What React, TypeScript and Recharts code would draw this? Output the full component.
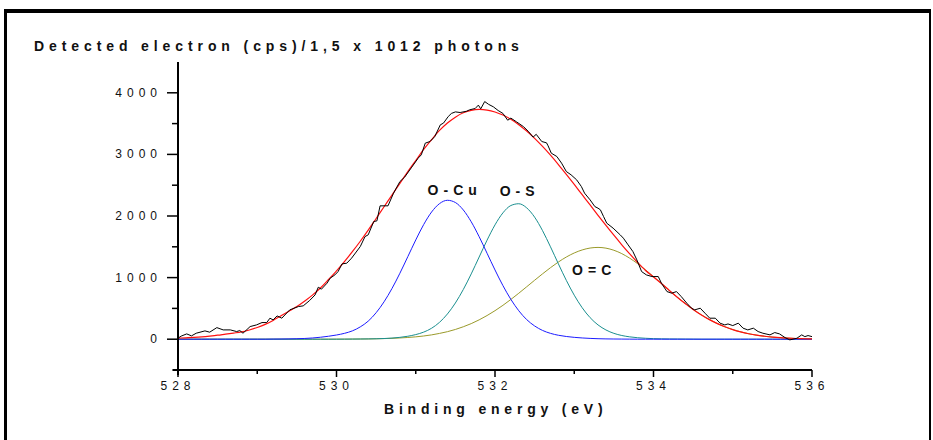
import React from "react";
import { LineChart, Line, XAxis, YAxis, ReferenceDot, ReferenceLine } from "recharts";

// fitted envelope and components, sampled every 0.1 eV
const fitEnergy = [
  528.0, 528.1, 528.2, 528.3, 528.4, 528.5, 528.6, 528.7, 528.8, 528.9,
  529.0, 529.1, 529.2, 529.3, 529.4, 529.5, 529.6, 529.7, 529.8, 529.9,
  530.0, 530.1, 530.2, 530.3, 530.4, 530.5, 530.6, 530.7, 530.8, 530.9,
  531.0, 531.1, 531.2, 531.3, 531.4, 531.5, 531.6, 531.7, 531.8, 531.9,
  532.0, 532.1, 532.2, 532.3, 532.4, 532.5, 532.6, 532.7, 532.8, 532.9,
  533.0, 533.1, 533.2, 533.3, 533.4, 533.5, 533.6, 533.7, 533.8, 533.9,
  534.0, 534.1, 534.2, 534.3, 534.4, 534.5, 534.6, 534.7, 534.8, 534.9,
  535.0, 535.1, 535.2, 535.3, 535.4, 535.5, 535.6, 535.7, 535.8, 535.9,
  536.0,
];

const envelopeFit = [
  17, 23, 30, 39, 51, 65, 83, 100, 118, 150,
  190, 240, 305, 380, 455, 530, 620, 720, 835, 970,
  1110, 1260, 1420, 1590, 1770, 1960, 2150, 2340, 2530, 2720,
  2900, 3080, 3240, 3390, 3510, 3605, 3675, 3716, 3730, 3720,
  3689, 3639, 3570, 3483, 3379, 3261, 3129, 2987, 2835, 2676,
  2513, 2346, 2179, 2012, 1848, 1688, 1533, 1385, 1245, 1115,
  1010, 904, 791, 682, 579, 484, 398, 322, 257, 202,
  156, 119, 89, 65, 48, 34, 24, 17, 11, 7,
  5,
];

const oCuFit = [
  0, 0, 0, 0, 0, 0, 0, 0, 0, 0,
  0, 0, 2, 3, 5, 8, 12, 20, 32, 48,
  68, 95, 135, 200, 293, 430, 607, 823, 1071, 1340,
  1611, 1861, 2065, 2201, 2255, 2219, 2098, 1906, 1664, 1395,
  1124, 870, 647, 462, 318, 215, 142, 95, 64, 44,
  30, 20, 13, 8, 5, 3, 2, 1, 0, 0,
  0, 0, 0, 0, 0, 0, 0, 0, 0, 0,
  0, 0, 0, 0, 0, 0, 0, 0, 0, 0,
  0,
];

const oSFit = [
  0, 0, 0, 0, 0, 0, 0, 0, 0, 0,
  0, 0, 0, 0, 0, 0, 0, 0, 0, 0,
  0, 1, 2, 3, 5, 7, 11, 18, 30, 48,
  75, 115, 178, 274, 410, 588, 807, 1060, 1334, 1608,
  1856, 2051, 2170, 2199, 2132, 1981, 1762, 1500, 1223, 955,
  714, 511, 350, 232, 150, 95, 60, 38, 24, 15,
  9, 6, 4, 3, 2, 1, 0, 0, 0, 0,
  0, 0, 0, 0, 0, 0, 0, 0, 0, 0,
  0,
];

const oCFit = [
  0, 0, 0, 0, 0, 0, 0, 0, 0, 0,
  0, 0, 0, 0, 0, 0, 0, 0, 0, 0,
  1, 1, 2, 3, 4, 7, 10, 14, 20, 28,
  38, 52, 70, 94, 122, 158, 202, 253, 314, 384,
  463, 550, 645, 746, 851, 957, 1061, 1161, 1253, 1334,
  1400, 1449, 1480, 1490, 1478, 1444, 1389, 1315, 1226, 1125,
  1016, 904, 791, 682, 579, 484, 398, 322, 257, 202,
  156, 119, 89, 65, 48, 34, 24, 17, 11, 7,
  5,
];

// measured spectrum
const spectrumEnergy = [
  528.0, 528.04, 528.11, 528.17, 528.23, 528.34, 528.4, 528.49, 528.57, 528.66,
  528.74, 528.78, 528.82, 528.91, 528.99, 529.06, 529.12, 529.16, 529.2, 529.25,
  529.31, 529.41, 529.52, 529.58, 529.66, 529.73, 529.77, 529.81, 529.88, 529.92,
  529.98, 530.02, 530.07, 530.13, 530.19, 530.3, 530.36, 530.4, 530.47, 530.51,
  530.55, 530.65, 530.72, 530.8, 530.86, 530.95, 531.03, 531.07, 531.12, 531.18,
  531.24, 531.31, 531.35, 531.41, 531.45, 531.5, 531.56, 531.64, 531.68, 531.75,
  531.79, 531.82, 531.87, 531.92, 531.98, 532.04, 532.1, 532.16, 532.2, 532.27,
  532.36, 532.42, 532.48, 532.52, 532.59, 532.65, 532.67, 532.71, 532.78, 532.84,
  532.9, 532.96, 533.03, 533.09, 533.13, 533.2, 533.26, 533.3, 533.33, 533.37,
  533.41, 533.49, 533.58, 533.62, 533.68, 533.74, 533.79, 533.85, 533.91, 533.98,
  534.06, 534.1, 534.17, 534.23, 534.29, 534.35, 534.42, 534.48, 534.52, 534.59,
  534.65, 534.71, 534.78, 534.84, 534.9, 534.94, 535.0, 535.07, 535.13, 535.19,
  535.26, 535.32, 535.38, 535.47, 535.53, 535.59, 535.66, 535.72, 535.81, 535.87,
  535.91, 535.95, 536.0,
];

const spectrumCounts = [
  16, 50, 86, 54, 97, 135, 114, 188, 151, 151,
  124, 140, 97, 205, 232, 270, 270, 341, 313, 378,
  341, 476, 530, 541, 627, 719, 844, 812, 909, 990,
  1044, 1098, 1223, 1234, 1315, 1504, 1666, 1694, 1910, 1921,
  2165, 2165, 2371, 2559, 2631, 2793, 2939, 2993, 3183, 3209,
  3290, 3480, 3508, 3615, 3665, 3690, 3680, 3700, 3724, 3745,
  3800, 3740, 3858, 3812, 3772, 3712, 3665, 3555, 3589, 3530,
  3450, 3375, 3280, 3326, 3209, 3188, 3139, 3020, 2966, 2858,
  2722, 2668, 2587, 2478, 2371, 2262, 2153, 2127, 2100, 1991,
  1884, 1803, 1694, 1640, 1531, 1423, 1288, 1098, 1044, 1017,
  1017, 909, 773, 747, 773, 692, 585, 503, 476, 503,
  422, 341, 341, 260, 232, 248, 221, 260, 179, 151,
  179, 124, 97, 70, 108, 86, 26, -11, 16, 70,
  42, 59, 42,
];

const energyTicks = [528, 529, 530, 531, 532, 533, 534, 535, 536];
const countTicks = [0, 500, 1000, 1500, 2000, 2500, 3000, 3500, 4000];

const peakLabels = [
  { name: "O-Cu", energy: 531.46, count: 2424 },
  { name: "O-S", energy: 532.28, count: 2400 },
  { name: "O=C", energy: 533.22, count: 1117 },
];

const FONT = '"Liberation Sans", Arial, sans-serif';

const fitRows = fitEnergy.map((x, i) => ({
  x,
  env: envelopeFit[i],
  cu: oCuFit[i],
  s: oSFit[i],
  c: oCFit[i],
}));
const spectrumRows = spectrumEnergy.map((x, i) => ({ x, y: spectrumCounts[i] }));

function YTick(props: any) {
  const { x, y, payload } = props;
  const major = payload.value % 1000 === 0;
  return (
    <g>
      <line x1={x - (major ? 11 : 6)} x2={x} y1={y} y2={y} stroke="#000" strokeWidth={1.5} />
      {major && (
        <text x={x - 16} y={y} dy={4} textAnchor="end" fontSize={12} letterSpacing={5} fill="#111" fontFamily={FONT}>
          {payload.value}
        </text>
      )}
    </g>
  );
}

function XTick(props: any) {
  const { x, y, payload } = props;
  const major = payload.value % 2 === 0;
  return (
    <g>
      <line x1={x} x2={x} y1={y} y2={y + (major ? 7 : 4)} stroke="#000" strokeWidth={1.5} />
      {major && (
        <text x={x} y={y + 20} textAnchor="middle" fontSize={12} letterSpacing={5} fill="#111" fontFamily={FONT}>
          {payload.value}
        </text>
      )}
    </g>
  );
}

export default function App() {
  return (
    <div style={{ position: "absolute", left: 0, top: 0, width: 933, height: 440, background: "#fff", overflow: "hidden", fontFamily: FONT }}>
      <div
        style={{
          position: "absolute",
          left: 4,
          top: 9,
          width: 922,
          height: 440,
          borderTop: "4px solid #000",
          borderLeft: "3px solid #000",
          borderRight: "2px solid #000",
        }}
      />
      <div
        style={{
          position: "absolute",
          left: 34,
          top: 38,
          fontSize: 14,
          fontWeight: "bold",
          letterSpacing: 4.9,
          whiteSpace: "nowrap",
          color: "#111",
        }}
      >
        Detected electron (cps)/1,5 x 1012 photons
      </div>
      <div
        style={{
          position: "absolute",
          left: 384,
          top: 401,
          fontSize: 14,
          fontWeight: "bold",
          letterSpacing: 4.8,
          whiteSpace: "nowrap",
          color: "#111",
        }}
      >
        Binding energy (eV)
      </div>
      <LineChart
        width={933}
        height={440}
        data={fitRows}
        margin={{ top: 62, right: 121, bottom: 69, left: 177 }}
        style={{ position: "absolute", left: 0, top: 0 }}
      >
        <XAxis
          type="number"
          dataKey="x"
          domain={[528, 536]}
          ticks={energyTicks}
          height={1}
          tickSize={0}
          tickMargin={0}
          tickLine={false}
          tick={<XTick />}
          axisLine={{ stroke: "#000", strokeWidth: 2 }}
          allowDataOverflow
          interval={0}
        />
        <YAxis
          type="number"
          domain={[-500, 4500]}
          ticks={countTicks}
          width={1}
          tickSize={0}
          tickMargin={0}
          tickLine={false}
          tick={<YTick />}
          axisLine={{ stroke: "#000", strokeWidth: 2 }}
          allowDataOverflow
          interval={0}
        />
        <ReferenceLine segment={[{ x: 528, y: -500 }, { x: 528, y: -580 }]} ifOverflow="visible" stroke="#000" strokeWidth={2} />
        <ReferenceLine segment={[{ x: 527.93, y: -500 }, { x: 528, y: -500 }]} ifOverflow="visible" stroke="#000" strokeWidth={2} />
        <Line dataKey="c" type="monotone" stroke="#9a9a2a" strokeWidth={1} dot={false} isAnimationActive={false} />
        <Line dataKey="s" type="monotone" stroke="#1a8f8f" strokeWidth={1} dot={false} isAnimationActive={false} />
        <Line dataKey="cu" type="monotone" stroke="#1c1cff" strokeWidth={1} dot={false} isAnimationActive={false} />
        <Line dataKey="env" type="monotone" stroke="#ff1010" strokeWidth={1.2} dot={false} isAnimationActive={false} />
        <Line data={spectrumRows} dataKey="y" type="linear" stroke="#000" strokeWidth={1} dot={false} isAnimationActive={false} />
        {peakLabels.map((p) => (
          <ReferenceDot
            key={p.name}
            x={p.energy}
            y={p.count}
            r={1}
            ifOverflow="visible"
            shape={(s: any) => (
              <text x={s.cx} y={s.cy} dx={2.5} dy={5} textAnchor="middle" fontSize={14} fontWeight="bold" letterSpacing={5} fill="#111" fontFamily={FONT}>
                {p.name}
              </text>
            )}
          />
        ))}
      </LineChart>
    </div>
  );
}
